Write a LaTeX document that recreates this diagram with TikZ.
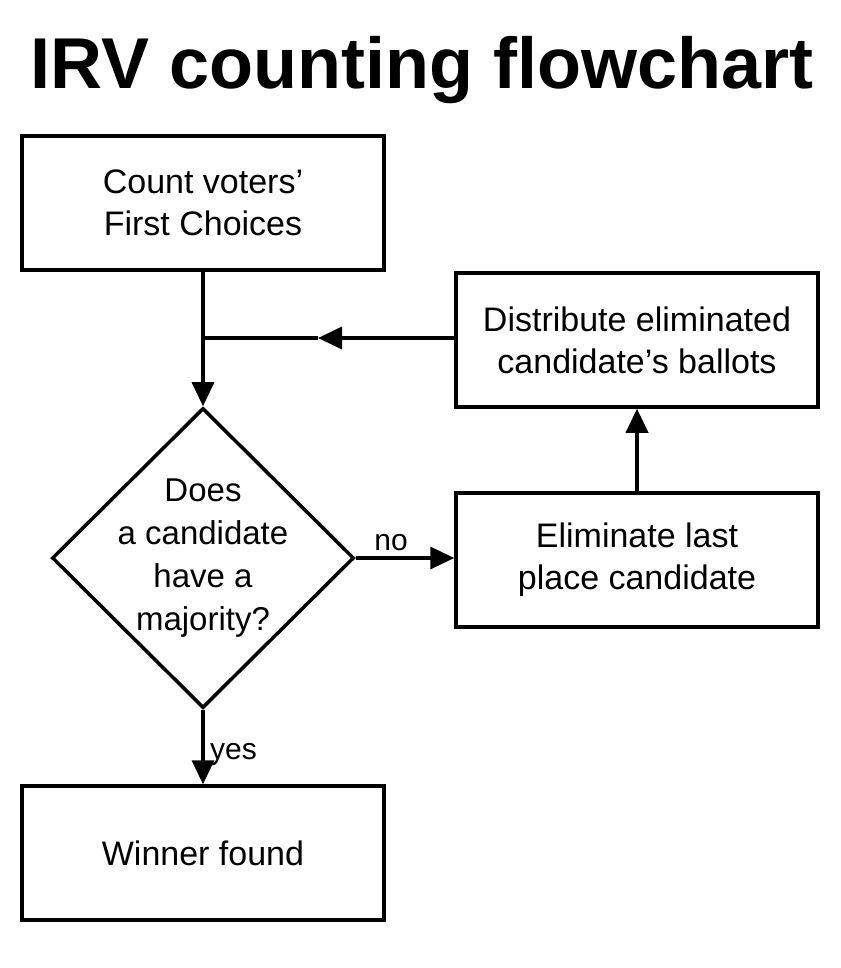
\documentclass[tikz,border=0pt]{standalone}
\usepackage{fontspec}
\setmainfont{Liberation Sans}
\usetikzlibrary{positioning,shapes.geometric,arrows.meta}
\begin{document}
\begin{tikzpicture}[x=1pt,y=-1pt,line width=3.5pt,
	box/.style={draw,minimum width=362pt,minimum height=134pt,align=center,font=\fontsize{34}{42}\selectfont},
	decide/.style={draw,diamond,minimum width=302pt,minimum height=300pt,inner sep=-40pt,align=center,font=\fontsize{33}{43}\selectfont},
	flow/.style={-{Triangle[length=24pt,width=22pt]}}]
	\useasboundingbox[fill=white] (0,0) rectangle (840,968);
	\node[font=\bfseries\fontsize{72}{80}\selectfont] (title) at (422,70) {IRV counting flowchart};
	\node[box] (count) at (203,203) {Count voters’\\First Choices};
	\node[box] (distribute) at (637,340) {Distribute eliminated\\candidate’s ballots};
	\node[box] (eliminate) at (637,560) {Eliminate last\\place candidate};
	\node[decide] (majority) at (203,558) {Does\\a candidate\\have a\\majority?};
	\node[box] (winner) at (203,853) {Winner found};
	\coordinate (join) at (203,338);
	\coordinate (mid) at (318,338);
		\draw[flow] (count) -- (majority);
		\draw[flow] (distribute.west |- join) -- (mid);
		\draw (mid) -- (join);
		\draw[flow] (majority) -- node[above,font=\fontsize{30}{34}\selectfont,xshift=-14pt,yshift=2pt] {no} (eliminate.west |- majority);
		\draw[flow] (eliminate) -- (distribute);
		\draw[flow] (majority) -- node[right,font=\fontsize{30}{34}\selectfont,yshift=-8pt,xshift=2pt] {yes} (winner);
\end{tikzpicture}
\end{document}
